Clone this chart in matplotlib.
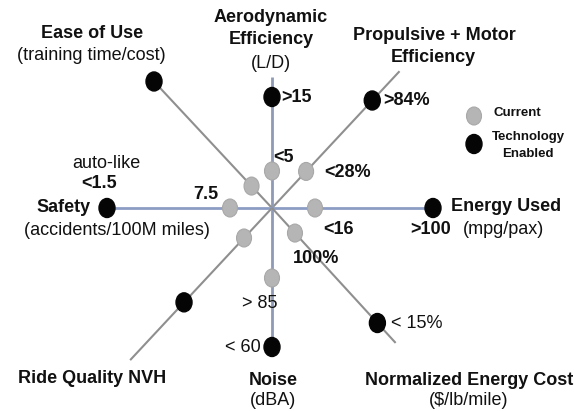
import numpy as np
import matplotlib
matplotlib.use("Agg")
import matplotlib.pyplot as plt
from matplotlib.patches import Ellipse

plt.rcParams['font.family'] = ['Liberation Sans', 'DejaVu Sans']

# ---- data: one spoke per metric (angle in degrees, radii in px from centre) ----
spokes = ["Energy Used", "Propulsive", "Aerodynamic", "Ease of Use",
          "Safety", "Ride Quality", "Noise", "Normalized Cost"]
angles = [0, 47, 90, 133, 180, 227, 270, -47.5]
current_r = [43, 50, 37, 30, 42, 41, 70, 34]
enabled_r = [161, 147, 111, 173, 165, 129, 139, 156]
line_len = [161, 187, 131, 173, 165, 208, 139, 183]
line_colors = ["#8c9dc4", "#8f8f8f", "#8e9ab6", "#8f8f8f",
               "#8c9dc4", "#8f8f8f", "#8e9ab6", "#8f8f8f"]

W, H = 586, 411
cx, cy = 272, 208

fig = plt.figure(figsize=(W / 100, H / 100), dpi=100)
ax = fig.add_axes([0, 0, 1, 1])
ax.set_xlim(0, W)
ax.set_ylim(H, 0)
ax.axis('off')

ang = np.radians(angles)
cosv, sinv = np.cos(ang), np.sin(ang)

for i in range(len(spokes)):
    L = line_len[i]
    lw = 2.0 if line_colors[i] != "#8f8f8f" else 1.5
    ax.plot([cx, cx + L * cosv[i]], [cy, cy - L * sinv[i]],
            color=line_colors[i], lw=lw, zorder=1, solid_capstyle='butt')

for i in range(len(spokes)):
    r = current_r[i]
    ax.add_patch(Ellipse((cx + r * cosv[i], cy - r * sinv[i]), 15, 18,
                         facecolor="#b5b5b5", edgecolor="#a8a8a8", lw=0.8, zorder=3))
    r = enabled_r[i]
    ax.add_patch(Ellipse((cx + r * cosv[i], cy - r * sinv[i]), 16, 19,
                         facecolor="#050505", edgecolor="#050505", zorder=3))

BIG = 13
kw = dict(va='center', color='#111111')

def t(x, y, s, ha='center', weight='bold', size=BIG):
    ax.text(x, y, s, ha=ha, fontsize=size, fontweight=weight, **kw)

# axis titles
t(92, 33, "Ease of Use")
t(91, 56, "(training time/cost)", weight='normal')
t(271, 17, "Aerodynamic")
t(271, 39, "Efficiency")
t(271, 63, "(L/D)", weight='normal')
t(434, 36, "Propulsive + Motor")
t(433, 57, "Efficiency")
t(91, 207, "Safety", ha='right')
t(117, 230, "(accidents/100M miles)", weight='normal')
t(451, 206, "Energy Used", ha='left')
t(504, 229, "(mpg/pax)", weight='normal')
t(92, 378, "Ride Quality NVH")
t(273, 380, "Noise")
t(273, 400, "(dBA)", weight='normal')
t(469, 380, "Normalized Energy Cost")
t(469, 400, "($/lb/mile)", weight='normal')

# value labels
t(281, 97, ">15", ha='left')
t(283, 157, "<5")
t(383, 100, ">84%", ha='left')
t(324, 172, "<28%", ha='left')
t(106, 163, "auto-like", weight='normal')
t(99, 183, "<1.5")
t(206, 194, "7.5")
t(338, 229, "<16")
t(431, 229, ">100")
t(316, 258, "100%")
t(391, 323, "< 15%", ha='left', weight='normal')
t(260, 303, "> 85", weight='normal')
t(261, 347, "< 60", ha='right', weight='normal')

# legend
ax.add_patch(Ellipse((474, 116), 15, 18, facecolor="#b5b5b5", edgecolor="#a8a8a8", lw=0.8))
ax.add_patch(Ellipse((474, 144), 16, 19, facecolor="#050505", edgecolor="#050505"))
t(493, 113, "Current", ha='left', size=9.5)
t(528, 137, "Technology", size=9.5)
t(528, 154, "Enabled", size=9.5)

fig.savefig("out.png", dpi=100, facecolor='white')
